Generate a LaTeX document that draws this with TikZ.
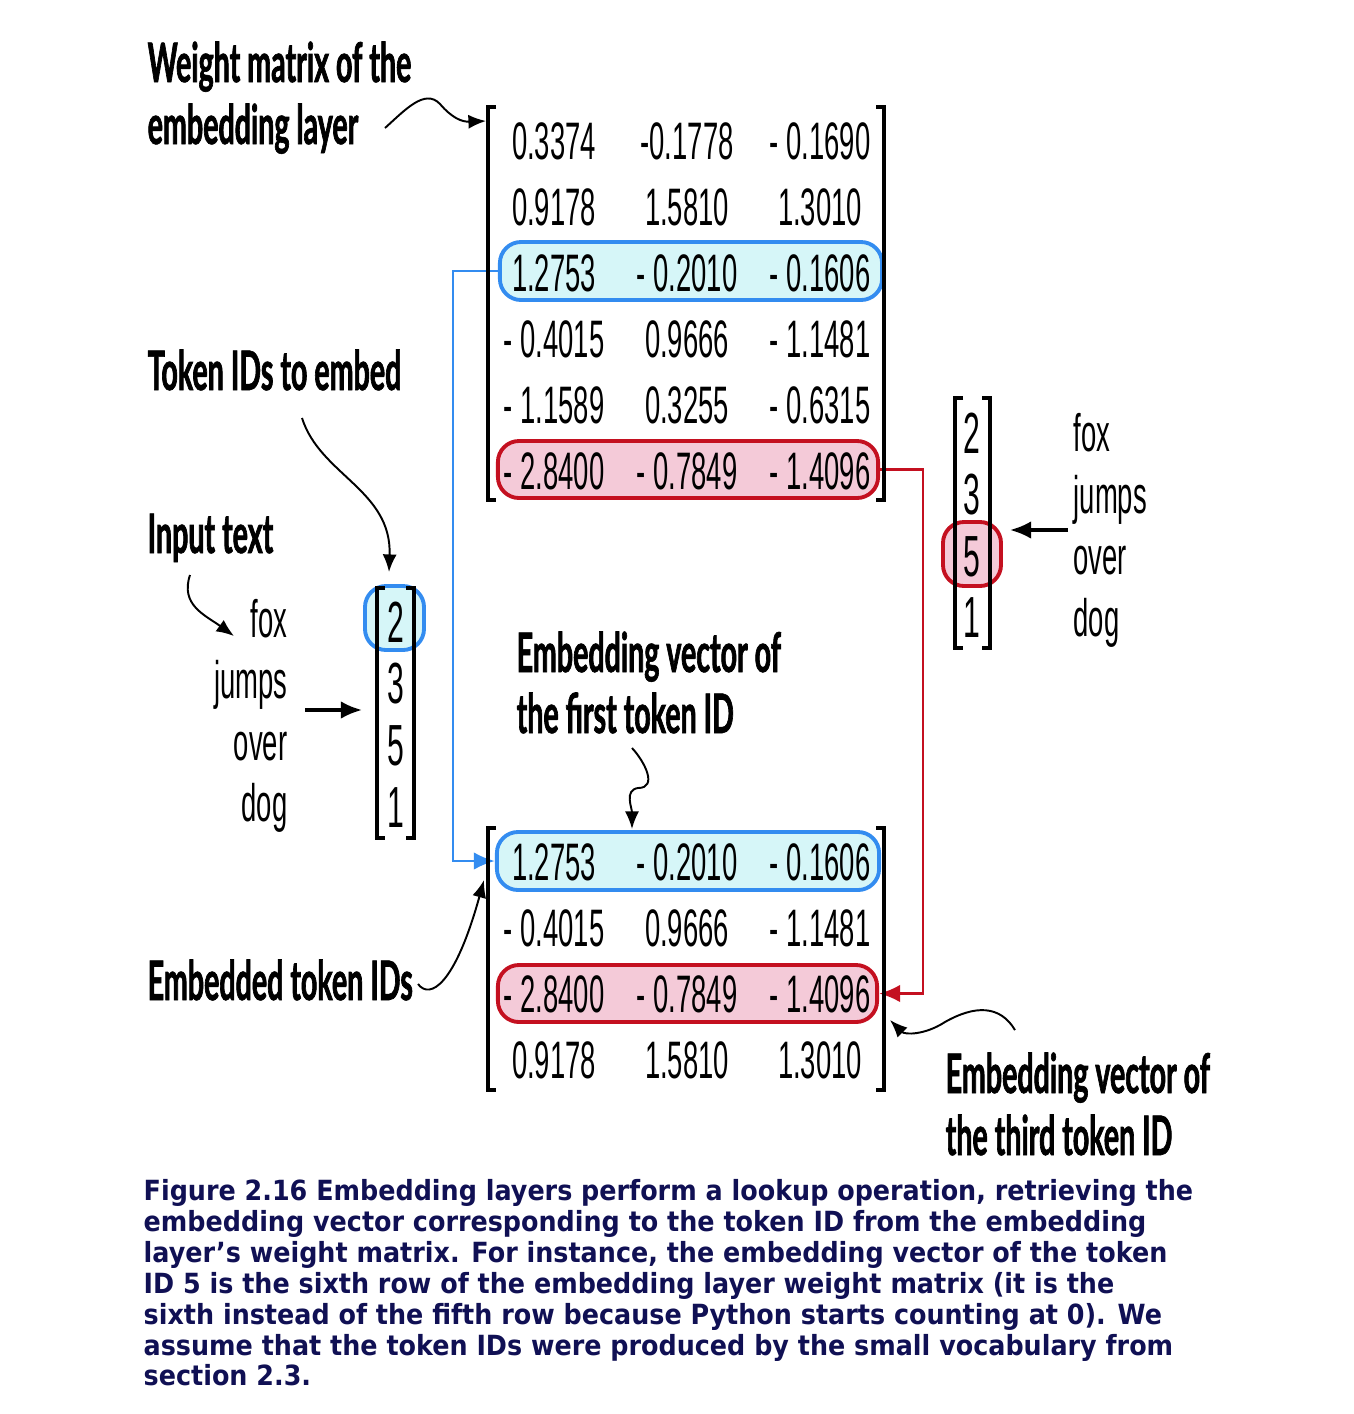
\documentclass[tikz,border=0pt]{standalone}
\usepackage{fontspec}
\usepackage{xcolor}
\usepackage{tikz}
\usetikzlibrary{calc,positioning,arrows.meta}

\newfontfamily\numfont[FakeStretch=0.52]{Liberation Sans}
\newfontfamily\labfont[FakeStretch=0.525,FakeBold=1.2]{Lato}
\newfontfamily\capfont[FakeStretch=0.915]{DejaVu Sans}

\definecolor{selblue}{RGB}{51,140,240}
\definecolor{selcyan}{RGB}{214,246,248}
\definecolor{selred}{RGB}{196,16,32}
\definecolor{selpink}{RGB}{244,202,216}
\definecolor{capnavy}{RGB}{16,16,84}

\tikzset{
	entry/.style={font=\numfont\fontsize{15}{18}\selectfont, inner sep=0pt},
	idnum/.style={font=\numfont\fontsize{16.5}{19}\selectfont, inner sep=0pt},
	word/.style={font=\numfont\fontsize{15}{18}\selectfont, inner sep=0pt},
	lab/.style={font=\labfont\bfseries\fontsize{15.5}{18}\selectfont, inner sep=0pt, anchor=base west},
	brk/.style={line width=1pt},
	bluesel/.style={draw=selblue, fill=selcyan, line width=1.1pt, rounded corners=6pt, inner sep=0pt},
	redsel/.style={draw=selred, fill=selpink, line width=1.1pt, rounded corners=6pt, inner sep=0pt},
	callout/.style={-{Latex[length=5pt,width=4pt]}, line width=0.55pt},
	bigarrow/.style={-{Latex[length=6pt,width=5pt]}, line width=0.9pt},
}

\begin{document}
\begin{tikzpicture}[x=0.01cm, y=-0.01cm, >=Latex]
	\useasboundingbox (0,0) rectangle (1354,1414);
	
	% =========================================================
	% Highlighted rows and IDs (drawn first, behind the text)
	% =========================================================
	\node[bluesel, minimum width=3.82cm, minimum height=0.58cm] (wsel) at (691,271) {};
	\node[redsel, minimum width=3.80cm, minimum height=0.57cm] (wred) at (688,469.5) {};
	\node[bluesel, minimum width=3.82cm, minimum height=0.58cm] (esel) at (688,861) {};
	\node[redsel, minimum width=3.79cm, minimum height=0.57cm] (ered) at (687.5,993.5) {};
	\node[bluesel, minimum width=0.59cm, minimum height=0.64cm] (idsel) at (394.5,618) {};
	\node[redsel, minimum width=0.58cm, minimum height=0.64cm] (idred) at (972,554) {};
	
	% Lookup connectors
	\draw[selblue, line width=0.8pt, -{Latex[length=6pt,width=5pt]}] (wsel.west) -- ++(-45,0) |- (esel.west);
	\draw[selred, line width=0.8pt, -{Latex[length=6pt,width=5pt]}] (wred.east) -- ++(43,0) |- (ered.east);
	
	% =========================================================
	% Weight matrix of the embedding layer
	% =========================================================
	\draw[brk] (496,107) -- (488,107) -- (488,500) -- (496,500);
	\draw[brk] (876,107) -- (884,107) -- (884,500) -- (876,500);
	\foreach \a/\b/\c [count=\r] in {0.3374/-0.1778/- 0.1690, 0.9178/1.5810/1.3010,
		1.2753/- 0.2010/- 0.1606, - 0.4015/0.9666/- 1.1481,
		- 1.1589/0.3255/- 0.6315, - 2.8400/- 0.7849/- 1.4096}{
		\node[entry] (w-\r-1) at (554,{75+66*\r}) {\a};
		\node[entry] (w-\r-2) at (687,{75+66*\r}) {\b};
		\node[entry] (w-\r-3) at (820,{75+66*\r}) {\c};
	}
	
	% =========================================================
	% Embedded token IDs
	% =========================================================
	\draw[brk] (496,828) -- (488,828) -- (488,1090) -- (496,1090);
	\draw[brk] (876,828) -- (884,828) -- (884,1090) -- (876,1090);
	\foreach \a/\b/\c [count=\r] in {1.2753/- 0.2010/- 0.1606, - 0.4015/0.9666/- 1.1481,
		- 2.8400/- 0.7849/- 1.4096, 0.9178/1.5810/1.3010}{
		\node[entry] (e-\r-1) at (554,{796+66*\r}) {\a};
		\node[entry] (e-\r-2) at (687,{796+66*\r}) {\b};
		\node[entry] (e-\r-3) at (820,{796+66*\r}) {\c};
	}
	
	% =========================================================
	% Input text and token IDs (left)
	% =========================================================
	\draw[brk] (385,588) -- (377,588) -- (377,838) -- (385,838);
	\draw[brk] (406,588) -- (414,588) -- (414,838) -- (406,838);
	\foreach \t/\n [count=\r] in {fox/2, jumps/3, over/5, dog/1}{
		\node[word, anchor=base east] (lw-\r) at (288,{575.5+61.5*\r}) {\t};
		\node[idnum] (li-\r) at (396,{560+62*\r}) {\n};
	}
	\coordinate (lfrom) at (305,710);
	\coordinate (lto) at (362,710);
	\draw[bigarrow] (lfrom) -- (lto);
	
	% =========================================================
	% Token IDs (right)
	% =========================================================
	\draw[brk] (963,398) -- (955,398) -- (955,648) -- (963,648);
	\draw[brk] (982,398) -- (990,398) -- (990,648) -- (982,648);
	\foreach \t/\n [count=\r] in {fox/2, jumps/3, over/5, dog/1}{
		\node[word, anchor=base west] (rw-\r) at (1073,{390+61.5*\r}) {\t};
		\node[idnum] (ri-\r) at (972,{372+61.5*\r}) {\n};
	}
	\coordinate (rfrom) at (1068,530);
	\coordinate (rto) at (1010,530);
	\draw[bigarrow] (rfrom) -- (rto);
	
	% =========================================================
	% Labels and callouts
	% =========================================================
	\node[lab] (wlab1) at (147,82) {Weight matrix of the};
	\node[lab] (wlab2) at (147,144) {embedding layer};
	\node[lab] (tlab) at (147,390) {Token IDs to embed};
	\node[lab] (ilab) at (147,553) {Input text};
	\node[lab] (flab1) at (516,672) {Embedding vector of};
	\node[lab] (flab2) at (516,733) {the first token ID};
	\node[lab] (elab) at (147,1000) {Embedded token IDs};
	\node[lab] (slab1) at (945,1093) {Embedding vector of};
	\node[lab] (slab2) at (945,1155) {the third token ID};
	
	\coordinate (wtip) at (486,121);
	\coordinate (ttip) at (389,572);
	\coordinate (itip) at (234,636);
	\coordinate (ftip) at (632,829);
	\coordinate (etip) at (484,880);
	\coordinate (stip) at (890,1020);
	
	\draw[callout] (385,128) .. controls (405,110) and (425,88) .. (440,104)
		.. controls (452,118) and (462,122) .. (wtip);
	\draw[callout] (302,418) .. controls (320,475) and (392,490) .. (ttip);
	\draw[callout] (190,575) .. controls (180,605) and (205,615) .. (itip);
	\draw[callout] (632,748) .. controls (645,762) and (658,788) .. (638,788)
		.. controls (624,790) and (632,808) .. (ftip);
	\draw[callout] (418,984) .. controls (430,1000) and (455,985) .. (etip);
	\draw[callout] (1015,1030) .. controls (1000,1005) and (975,1005) .. (945,1022)
		.. controls (925,1035) and (905,1035) .. (stip);
	
	% =========================================================
	% Caption
	% =========================================================
	\node[font=\capfont\bfseries\fontsize{7.9}{8.77}\selectfont, text=capnavy,
		align=left, anchor=north west, inner sep=0pt] (caption) at (143,1179)
	{Figure 2.16 Embedding layers perform a lookup operation, retrieving the\\
		embedding vector corresponding to the token ID from the embedding\\
		layer’s weight matrix. For instance, the embedding vector of the token\\
		ID 5 is the sixth row of the embedding layer weight matrix (it is the\\
		sixth instead of the fifth row because Python starts counting at 0). We\\
		assume that the token IDs were produced by the small vocabulary from\\
		section 2.3.};
	
\end{tikzpicture}
\end{document}
